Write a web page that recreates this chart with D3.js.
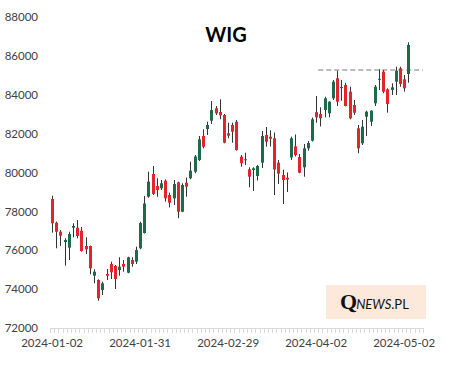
<!DOCTYPE html>
<html>
<head>
<meta charset="utf-8">
<script src="https://cdn.jsdelivr.net/npm/d3@7"></script>
<style>
  html, body { margin: 0; padding: 0; background: #fff; }
  svg { display: block; }
</style>
</head>
<body>
<svg id="chart" width="457" height="366"></svg>
<script>
// ---- data ----
const title = "WIG";
const dates = [
  "2024-01-02","2024-01-03","2024-01-04","2024-01-05","2024-01-08","2024-01-09","2024-01-10","2024-01-11","2024-01-12",
  "2024-01-15","2024-01-16","2024-01-17","2024-01-18","2024-01-19","2024-01-22","2024-01-23","2024-01-24","2024-01-25",
  "2024-01-26","2024-01-29","2024-01-30","2024-01-31",
  "2024-02-01","2024-02-02","2024-02-05","2024-02-06","2024-02-07","2024-02-08","2024-02-09","2024-02-12","2024-02-13",
  "2024-02-14","2024-02-15","2024-02-16","2024-02-19","2024-02-20","2024-02-21","2024-02-22","2024-02-23","2024-02-26",
  "2024-02-27","2024-02-28","2024-02-29",
  "2024-03-01","2024-03-04","2024-03-05","2024-03-06","2024-03-07","2024-03-08","2024-03-11","2024-03-12","2024-03-13",
  "2024-03-14","2024-03-15","2024-03-18","2024-03-19","2024-03-20","2024-03-21","2024-03-22","2024-03-25","2024-03-26",
  "2024-03-27","2024-03-28",
  "2024-04-02","2024-04-03","2024-04-04","2024-04-05","2024-04-08","2024-04-09","2024-04-10","2024-04-11","2024-04-12",
  "2024-04-15","2024-04-16","2024-04-17","2024-04-18","2024-04-19","2024-04-22","2024-04-23","2024-04-24","2024-04-25",
  "2024-04-26","2024-04-29","2024-04-30",
  "2024-05-02","2024-05-06","2024-05-07","2024-05-08","2024-05-09"
];
const open = [
  78637,77417,76954,76424,76131,77160,77160,77006,76219,76219,74691,74469,73955,74778,75293,75190,74984,75293,74845,75498,75411,76100,
  76887,78755,79923,79305,79187,79578,78842,78673,79496,77983,79475,79702,80041,80643,81878,82238,82665,83303,83113,82958,82017,
  82444,82614,80813,80628,80165,80129,79820,80504,81929,81842,81759,80504,79871,79727,80772,81348,80797,80268,81245,81636,
  83102,83010,83215,83046,83817,84846,84340,84502,84157,83473,82274,81502,82871,82614,83560,84770,85186,84280,84244,84671,85361,
  84795,85068
];
const high = [
  78806,77469,77042,76615,76954,77387,77556,77196,76666,76240,75020,74505,74382,75035,75411,75241,75637,75498,75668,75637,76183,77469,
  78791,80041,80334,79702,79614,79650,78961,79614,79527,79444,79733,80556,80900,81878,82223,82614,83678,83421,83766,83010,82562,
  82562,82701,80900,81019,80268,80268,80386,82135,82341,82171,82058,80643,80144,80000,81842,81955,80952,81466,81621,82830,
  83936,83354,83900,83660,84759,85237,84759,84620,84414,83730,82444,82701,83180,83200,84502,85309,85273,84331,84589,85443,85443,
  85016,86698
];
const low = [
  76903,76100,76219,75205,75498,76666,76615,75925,75807,74763,74300,73405,73698,74469,74521,74006,74691,74896,74814,75154,75293,76049,
  76860,78700,78842,78755,79100,78498,78210,78328,77644,77960,78755,79650,79959,80592,81245,81929,82495,82958,82737,81502,81759,
  81533,81122,80298,80386,79239,79048,79588,80232,81327,81338,78842,79408,78379,78997,80643,80823,79959,79784,81122,81595,
  82562,82367,82840,82840,83730,83421,83694,83400,82737,82958,80988,81415,81878,82392,83421,84244,84075,83077,83987,83987,84414,
  84157,84620
];
const close = [
  77387,76954,76749,76527,76836,77248,76733,75961,76049,75071,74896,73528,74300,74691,74866,74521,75154,75154,75637,75293,76013,77402,
  78405,79527,78894,79100,79444,78673,78446,79408,77983,79357,79269,80093,80823,81708,81327,82444,83215,83046,82943,81533,81893,
  82099,81158,80473,80679,79784,80216,80334,81878,81585,81734,80154,79938,79614,79640,81759,80900,79990,81245,81518,82737,
  82840,82788,83817,83642,84671,83642,84400,83421,82788,83077,81245,82356,83128,83180,84414,84820,84157,83524,84383,85237,84553,
  84331,86560
];
const yTicks = [72000,74000,76000,78000,80000,82000,84000,86000,88000];
const xLabelDates = ["2024-01-02","2024-01-31","2024-02-29","2024-04-02","2024-05-02"];
const resistanceLevel = 85273;
const resistanceFrom = "2024-04-03";
const logoParts = ["Q", "NEWS", ".PL"];

// ---- chart ----
const svg = d3.select("#chart");
const font = "Lato, 'Open Sans', sans-serif";
const m = {left: 50, right: 423, top: 17, bottom: 328};

const x = d3.scaleBand().domain(dates).range([m.left, m.right]).paddingInner(0).paddingOuter(0);
const y = d3.scaleLinear().domain([72000, 88000]).range([m.bottom, m.top]);

const candles = open.map((o, i) => ({date: dates[i], o, h: high[i], l: low[i], c: close[i]}));

// title
svg.append("text").attr("x", 226).attr("y", 42).attr("text-anchor", "middle")
  .attr("font-family", font).attr("font-weight", "bold").attr("font-size", 20)
  .attr("fill", "#000").text(title);

// y axis (labels only)
const yAxis = d3.axisLeft(y).tickValues(yTicks).tickSize(0).tickPadding(0).tickFormat(d3.format("d"));
const gy = svg.append("g").attr("transform", `translate(38,0)`).call(yAxis);
gy.select(".domain").remove();
gy.selectAll("text").attr("font-family", font).attr("font-size", 11.5).attr("fill", "#404040");

// x axis: line + tick at every category boundary
const gx = svg.append("g");
gx.append("line").attr("x1", m.left).attr("x2", m.right).attr("y1", y(72000) + 0.5).attr("y2", y(72000) + 0.5)
  .attr("stroke", "#d9d9d9").attr("stroke-width", 1);
gx.selectAll("line.tick").data(dates.concat([null])).join("line").attr("class", "tick")
  .attr("x1", (d, i) => Math.round(m.left + i * x.bandwidth()) + 0.5)
  .attr("x2", (d, i) => Math.round(m.left + i * x.bandwidth()) + 0.5)
  .attr("y1", y(72000)).attr("y2", y(72000) + 5)
  .attr("stroke", "#d9d9d9").attr("stroke-width", 1);
gx.selectAll("text").data(xLabelDates).join("text")
  .attr("x", d => x(d) + x.bandwidth() / 2).attr("y", 347).attr("text-anchor", "middle")
  .attr("font-family", font).attr("font-size", 11.5).attr("fill", "#404040").text(d => d);

// resistance dashed line
svg.append("line")
  .attr("x1", x(resistanceFrom)).attr("x2", m.right)
  .attr("y1", y(resistanceLevel)).attr("y2", y(resistanceLevel))
  .attr("stroke", "#a6a6a6").attr("stroke-width", 1.5).attr("stroke-dasharray", "5,3");

// candles
const up = "#1e6b4b", down = "#e3242b";
const bw = 3;
const g = svg.append("g");
const cg = g.selectAll("g.c").data(candles).join("g").attr("class", "c");
cg.append("line")
  .attr("x1", d => Math.round(x(d.date) + x.bandwidth() / 2) + 0.5)
  .attr("x2", d => Math.round(x(d.date) + x.bandwidth() / 2) + 0.5)
  .attr("y1", d => y(d.h)).attr("y2", d => y(d.l))
  .attr("stroke", "#333").attr("stroke-width", 1);
cg.append("rect")
  .attr("x", d => Math.round(x(d.date) + x.bandwidth() / 2) + 0.5 - bw / 2)
  .attr("width", bw)
  .attr("y", d => y(Math.max(d.o, d.c)))
  .attr("height", d => Math.max(1, y(Math.min(d.o, d.c)) - y(Math.max(d.o, d.c))))
  .attr("fill", d => d.c >= d.o ? up : down);

// logo box
const logo = svg.append("g");
logo.append("rect").attr("x", 326).attr("y", 285).attr("width", 100).attr("height", 34).attr("fill", "#fde9db");
const lt = logo.append("text").attr("x", 340).attr("y", 309).attr("fill", "#111");
lt.append("tspan").attr("font-family", "'Liberation Serif', serif").attr("font-weight", "bold").attr("font-size", 22).text(logoParts[0]);
lt.append("tspan").attr("font-family", font).attr("font-style", "italic").attr("font-size", 13).attr("dx", -1).text(logoParts[1]);
lt.append("tspan").attr("font-family", font).attr("font-size", 13).text(logoParts[2]);
</script>
</body>
</html>
